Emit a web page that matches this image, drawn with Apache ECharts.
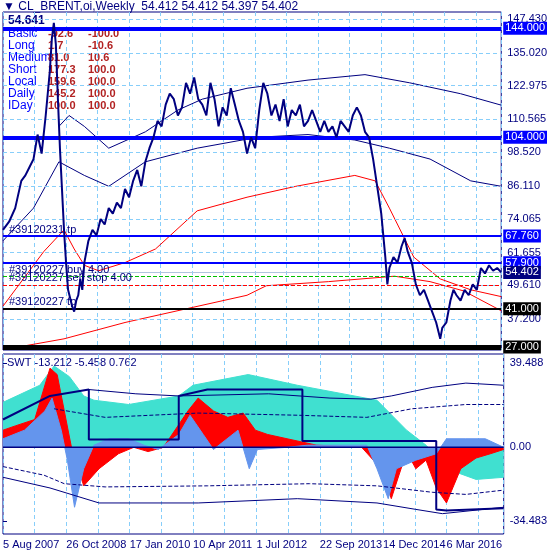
<!DOCTYPE html>
<html>
<head>
<meta charset="utf-8">
<script src="https://cdn.jsdelivr.net/npm/echarts@6/dist/echarts.min.js"></script>
<style>html,body{margin:0;padding:0;background:#fff}#c{width:550px;height:550px}</style>
</head>
<body>
<div id="c"></div>
<script>
// x axis is in weeks since 5 Aug 2007
var dateLabels = ['5 Aug 2007', '26 Oct 2008', '17 Jan 2010', '10 Apr 2011', '1 Jul 2012', '22 Sep 2013', '14 Dec 2014', '6 Mar 2016'];
var priceTicks = [147.430, 135.020, 122.975, 110.565, 98.520, 86.110, 74.065, 61.655, 49.610, 37.200, 25.155];
var swtTicks = [39.488, 0, -34.483];

var price = [[0,70],[6,73],[12,78],[18,88],[22,90],[26,93],[30,96],[34,105],[38,98],[42,112],[46,128],[48,140],[50,146],[52,138],[54,118],[56,100],[58,85],[60,70],[62,58],[64,48],[66,45],[68,42],[70,40],[72,44],[74,46],[76,52],[78,48],[80,58],[84,66],[88,70],[92,68],[96,74],[100,72],[104,78],[108,76],[112,80],[116,78],[120,85],[124,82],[128,88],[132,92],[136,86],[140,95],[144,100],[148,104],[152,110],[156,108],[160,116],[164,120],[168,118],[172,112],[176,115],[180,124],[184,120],[188,126],[192,118],[196,116],[200,112],[204,124],[208,118],[212,108],[216,115],[220,112],[224,122],[228,116],[232,110],[236,106],[240,98],[244,104],[248,100],[252,114],[256,124],[260,120],[264,112],[268,116],[272,110],[276,118],[280,108],[284,114],[288,112],[292,116],[296,108],[300,110],[304,114],[308,110],[312,106],[316,110],[320,106],[324,108],[328,104],[332,110],[336,108],[340,106],[344,112],[348,115],[352,112],[356,106],[360,104],[364,96],[368,86],[372,76],[376,60],[378,50],[380,56],[384,60],[388,58],[392,64],[395,67],[398,62],[402,58],[406,50],[410,46],[414,48],[418,44],[422,40],[426,36],[430,30],[432,34],[436,36],[440,44],[443,48],[446,46],[450,44],[454,48],[458,46],[462,50],[466,48],[470,56],[474,54],[478,57],[482,55],[486,56],[490,54.4]];
var maFast = [[0,42],[20,52],[40,62],[55,68],[60,70],[70,63],[80,57],[94,55],[120,58],[150,63],[191,77],[240,82],[288,86],[346,90],[366,88],[380,78],[404,60],[430,52],[460,48],[490,45.5]];
var maSlow = [[0,26],[60,30],[120,36],[180,41],[240,46],[259,49.5],[320,51],[385,53],[420,51],[453,47.6],[490,40.3]];
var bandUp = [[55,108],[65,112],[80,108],[104,100],[140,106],[172,114],[196,118],[240,122],[300,125],[356,127],[400,124],[450,120],[490,115.8]];
var bandLo = [[0,66],[30,78],[55,95],[80,90],[104,86],[140,95],[191,100],[250,104],[300,105],[346,103],[380,100],[420,96],[460,88],[490,86]];

// price levels: value, label, colour, width, type, note
var levels = [
  [144, '144.000', '#0000ff', 4, 'solid', ''],
  [104, '104.000', '#0000ff', 4, 'solid', ''],
  [67.76, '67.760', '#0000ff', 2, 'solid', '#39120231 tp'],
  [57.9, '57.900', '#0000ff', 2, 'solid', ''],
  [54.402, '54.402', '#b0c4de', 1, 'solid', ''],
  [52.8, '', '#00c000', 1, 'dashed', '#39120227 buy 4.00'],
  [49.8, '', '#ff0000', 1, 'dashed', '#39120227 sell stop 4.00'],
  [41, '41.000', '#000000', 2, 'solid', '#39120227 tp'],
  [27, '27.000', '#000000', 5, 'solid', '']
];

var turq = [[0,21],[36,29],[50,38],[65,33],[79,24],[89,22],[123,20],[172,24],[186,29],[240,34],[288,29],[366,22],[395,8],[414,1],[420,-2],[434,-10],[463,-15],[490,-14]];
var redHist = [[0,8],[12,10],[31,13],[46,37],[53,34],[60,17],[67,0],[79,-18],[94,-10],[113,-3],[128,0],[142,-2],[157,0],[181,17],[191,23],[206,17],[220,14],[235,16],[247,8],[259,6],[278,4],[307,1],[351,0],[370,-10],[380,-24],[395,-2],[404,-10],[414,-6],[424,-19],[434,-26],[448,-10],[463,-5],[477,-3],[490,-1]];
var blueHist = [[0,4],[21,8],[41,17],[48,23],[57,8],[63,-6],[70,-28],[79,-10],[89,1],[104,4],[123,4],[138,1],[152,-1],[172,6],[183,15],[196,6],[206,-1],[230,8],[241,-10],[249,-1],[278,0],[298,1],[356,1],[366,-10],[377,-24],[385,-10],[404,-6],[424,-3],[434,4],[453,4],[472,4],[490,0]];
var stepLine = [[0,13],[46,24],[84,27],[84,3.7],[172,3.7],[172,24],[200,27],[293,27],[293,3],[424,3],[424,-29],[434,-29.5],[490,-28.5]];
var upThin = [[84,27],[130,25],[172,24],[260,25],[320,23],[360,22.5],[380,24],[420,28],[453,30],[490,29]];
var upDash = [[50,18],[100,14],[191,16],[288,15],[356,14],[400,18],[453,20],[490,20]];
var loDash = [[0,-9],[40,-13],[60,-17],[100,-18.5],[200,-18],[300,-17],[366,-18],[420,-21],[453,-22],[490,-20]];
var loThin = [[0,-14],[46,-19],[94,-26],[191,-26],[288,-24],[366,-26],[404,-29],[430,-31],[490,-28]];

var tableRows = ['Basic', 'Long', 'Medium', 'Short', 'Local', 'Daily', 'IDay'];
var tableA = ['-92.6', '1.7', '81.0', '177.3', '159.6', '145.2', '100.0'];
var tableB = ['-100.0', '-10.6', '10.6', '100.0', '100.0', '100.0', '100.0'];

var navy = '#000080';
var gridCol = '#87cefa';
var font = 'Liberation Sans';

var myChart = echarts.init(document.getElementById('c'));

function xAxisCfg(idx, showLabels) {
  return {
    type: 'value', gridIndex: idx, min: 0, max: 490, interval: 31,
    axisLine: { show: false }, axisTick: { show: false },
    splitLine: { show: true, lineStyle: { color: gridCol, type: [4, 3] } },
    axisLabel: {
      show: showLabels, color: navy, fontFamily: font, fontSize: 11, align: 'left', margin: 5,
      showMaxLabel: false,
      formatter: function (v) { return v % 62 === 0 ? dateLabels[v / 62] : ''; }
    }
  };
}
function yAxisCfg(idx, min, max, ticks, fmt) {
  return {
    type: 'value', gridIndex: idx, position: 'right', min: min, max: max,
    axisLine: { show: false },
    axisTick: { show: true, customValues: ticks, length: 4, lineStyle: { color: navy } },
    splitLine: { show: false },
    axisLabel: { customValues: ticks, color: navy, fontFamily: font, fontSize: 11, margin: 6, formatter: fmt }
  };
}
function gridLines(ticks) {
  return ticks.map(function (t) {
    return { yAxis: t, lineStyle: { color: gridCol, type: [4, 3], width: 1 }, label: { show: false } };
  });
}

var levelLines = levels.map(function (l) {
  var d = { yAxis: l[0], lineStyle: { color: l[2], width: l[3], type: l[4] } };
  d.label = l[1] ? {
    show: true, position: 'end', distance: 2, formatter: l[1], color: '#fff',
    backgroundColor: l[0] === 54.402 ? navy : l[2], padding: [1, 2], fontFamily: font, fontSize: 11
  } : { show: false };
  return d;
});
var levelNotes = levels.filter(function (l) { return l[5]; }).map(function (l) {
  return { yAxis: l[0], lineStyle: { width: 0 },
    label: { show: true, position: 'insideStartTop', distance: [6, 1], formatter: l[5], color: navy, fontFamily: font, fontSize: 11 } };
});

function ln(name, data, color, width, type, xi, z) {
  return { name: name, type: 'line', data: data, xAxisIndex: xi, yAxisIndex: xi, showSymbol: false, symbol: 'none',
    lineStyle: { color: color, width: width, type: type || 'solid' }, z: z || 3, animation: false };
}
function area(name, data, color, z) {
  var s = ln(name, data, color, 1, 'solid', 1, z);
  s.areaStyle = { color: color, opacity: 1, origin: 0 };
  return s;
}

var graphic = [
  { type: 'text', left: 3, top: 1, style: { text: '▼ CL_BRENT,oi,Weekly  54.412 54.412 54.397 54.402', fill: navy, font: '12px ' + font } },
  { type: 'text', left: 8, top: 15, style: { text: '54.641', fill: navy, font: 'bold 12px ' + font } },
  { type: 'text', left: 7, top: 357, style: { text: 'SWT -13.212 -5.458 0.762', fill: navy, font: '11px ' + font } }
];
tableRows.forEach(function (r, i) {
  var y = 28 + i * 12;
  graphic.push({ type: 'text', left: 8, top: y, style: { text: r, fill: '#0000ff', font: '12px ' + font } });
  graphic.push({ type: 'text', left: 48, top: y, style: { text: tableA[i], fill: '#b22222', font: 'bold 11px ' + font } });
  graphic.push({ type: 'text', left: 88, top: y, style: { text: tableB[i], fill: '#b22222', font: 'bold 11px ' + font } });
});

var option = {
  backgroundColor: '#fff',
  animation: false,
  graphic: graphic,
  grid: [
    { left: 3, right: 40, top: 12, height: 338, show: true, borderColor: navy, borderWidth: 1 },
    { left: 3, right: 40, top: 354, height: 182, show: true, borderColor: navy, borderWidth: 1 }
  ],
  xAxis: [xAxisCfg(0, false), xAxisCfg(1, true)],
  yAxis: [
    yAxisCfg(0, 25.9, 150, priceTicks, function (v) { return v.toFixed(3); }),
    yAxisCfg(1, -40.5, 43.6, swtTicks, function (v) { return v === 0 ? '0.00' : v.toFixed(3); })
  ],
  series: [
    (function () {
      var s = ln('grid0', [], navy, 1, 'solid', 0, 1);
      s.markLine = { silent: true, symbol: 'none', data: gridLines(priceTicks), animation: false };
      return s;
    })(),
    ln('maSlow', maSlow, '#ff0000', 1, 'solid', 0),
    ln('maFast', maFast, '#ff0000', 1, 'solid', 0),
    ln('bandUp', bandUp, navy, 1, 'solid', 0),
    ln('bandLo', bandLo, navy, 1, 'solid', 0),
    (function () {
      var s = ln('price', price, navy, 2, 'solid', 0, 5);
      s.markLine = { silent: true, symbol: 'none', data: levelLines.concat(levelNotes), animation: false };
      return s;
    })(),
    area('turq', turq, '#40e0d0', 2),
    area('red', redHist, '#ff0000', 3),
    area('blue', blueHist, '#6495ed', 4),
    ln('zero', [[0, 0], [490, 0]], navy, 1.5, 'solid', 1, 6),
    ln('upThin', upThin, navy, 1, 'solid', 1, 6),
    ln('upDash', upDash, navy, 1, 'dashed', 1, 6),
    ln('loDash', loDash, navy, 1, 'dashed', 1, 6),
    ln('loThin', loThin, navy, 1, 'solid', 1, 6),
    ln('step', stepLine, navy, 2, 'solid', 1, 7)
  ]
};

myChart.setOption(option);
</script>
</body>
</html>
